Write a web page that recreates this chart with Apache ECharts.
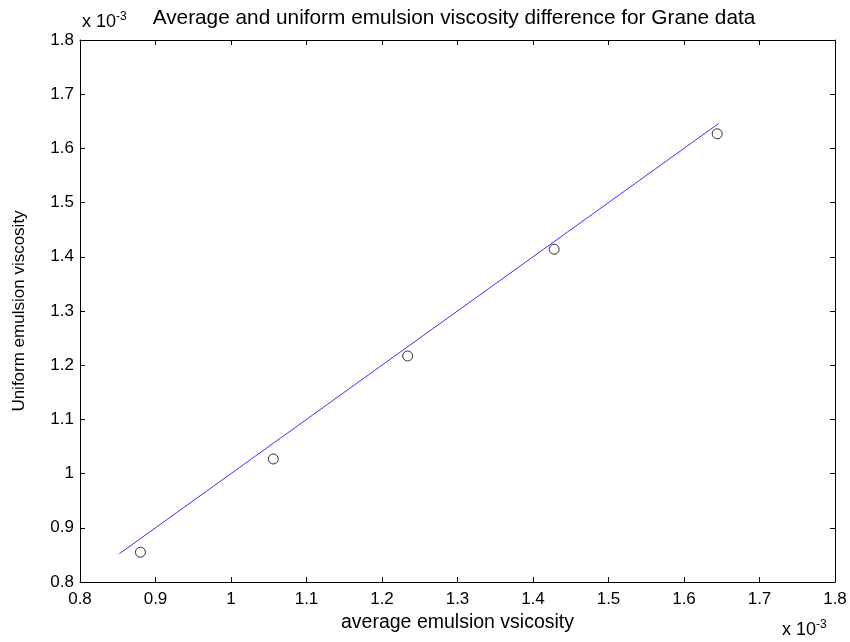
<!DOCTYPE html>
<html>
<head>
<meta charset="utf-8">
<script src="https://cdn.jsdelivr.net/npm/echarts@6/dist/echarts.min.js"></script>
<style>
  html, body { margin: 0; padding: 0; background: #fff; }
  #chart { width: 850px; height: 642px; }
</style>
</head>
<body>
<div id="chart"></div>
<script>
// values in units of 1e-3
var avgViscosity = [0.880, 1.056, 1.234, 1.428, 1.644];
var uniformViscosity = [0.855, 1.027, 1.217, 1.414, 1.627];
var fitLine = [[0.852, 0.852], [1.646, 1.646]];

var chart = echarts.init(document.getElementById("chart"));

var font = "Liberation Sans, Arial, sans-serif";
var axisCommon = {
  type: "value",
  min: 0.8,
  max: 1.8,
  interval: 0.1,
  axisLine: { show: true, onZero: false, lineStyle: { color: "#000", width: 1 } },
  axisTick: { show: true, inside: true, length: 5, lineStyle: { color: "#000" } },
  splitLine: { show: false }
};

var expRich = { s: { fontSize: 12, fontFamily: font, verticalAlign: "top", padding: [0, 0, 10, 0] } };

var option = {
  backgroundColor: "#fff",
  animation: false,
  grid: { left: 80, right: 15, top: 40, bottom: 60 },
  xAxis: [
    Object.assign({}, axisCommon, {
      position: "bottom",
      name: "average emulsion vsicosity",
      nameLocation: "middle",
      nameGap: 30,
      nameTextStyle: { color: "#000", fontSize: 19.5, fontFamily: font },
      axisLabel: { color: "#000", fontSize: 17, fontFamily: font, margin: 9 }
    }),
    Object.assign({}, axisCommon, {
      position: "top",
      axisLabel: { show: false }
    })
  ],
  yAxis: [
    Object.assign({}, axisCommon, {
      position: "left",
      name: "Uniform emulsion viscosity",
      nameLocation: "middle",
      nameGap: 52,
      nameTextStyle: { color: "#000", fontSize: 17, fontFamily: font },
      axisLabel: { color: "#000", fontSize: 17, fontFamily: font, margin: 6 }
    }),
    Object.assign({}, axisCommon, {
      position: "right",
      axisLabel: { show: false }
    })
  ],
  graphic: [
    {
      type: "text",
      left: 82,
      top: 11,
      style: { text: "x 10{s|-3}", font: "18px " + font, fill: "#000", rich: expRich }
    },
    {
      type: "text",
      x: 454,
      y: 8,
      style: {
        text: "Average and uniform emulsion viscosity difference for Grane data",
        font: "20.8px " + font,
        fill: "#000",
        align: "center"
      }
    },
    {
      type: "text",
      left: 782,
      top: 619,
      style: { text: "x 10{s|-3}", font: "18px " + font, fill: "#000", rich: expRich }
    }
  ],
  series: [
    {
      type: "line",
      data: fitLine,
      symbol: "none",
      lineStyle: { color: "#0000ff", width: 0.8 },
      silent: true
    },
    {
      type: "scatter",
      data: avgViscosity.map(function (x, i) { return [x, uniformViscosity[i]]; }),
      symbol: "circle",
      symbolSize: 10,
      itemStyle: { color: "rgba(0,0,0,0)", borderColor: "#000", borderWidth: 1 }
    }
  ]
};

chart.setOption(option);
</script>
</body>
</html>
